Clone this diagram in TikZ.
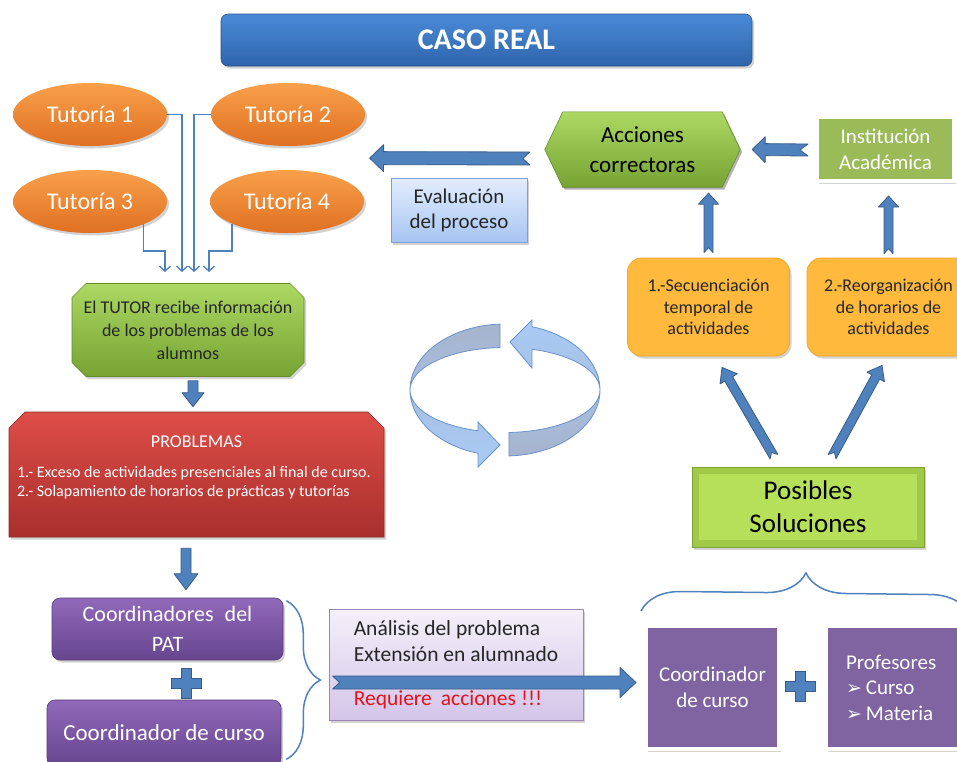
\documentclass[tikz,border=0pt]{standalone}
\usepackage{fontspec}
\setmainfont{Carlito}
\newfontfamily\dejavu{DejaVu Sans}
\usetikzlibrary{calc,arrows.meta,shapes.geometric,shapes.misc,shadows,decorations.pathreplacing,backgrounds}
\definecolor{titletop}{HTML}{4A8BD8}
\definecolor{titlebot}{HTML}{2F64AC}
\definecolor{orgtop}{HTML}{F9A04A}
\definecolor{orgbot}{HTML}{DF7022}
\definecolor{grntop}{HTML}{ACD863}
\definecolor{grnbot}{HTML}{76A332}
\definecolor{redtop}{HTML}{DE4D48}
\definecolor{redbot}{HTML}{A92F2C}
\definecolor{purtop}{HTML}{9169BA}
\definecolor{purbot}{HTML}{66458E}
\definecolor{pur}{HTML}{8064A2}
\definecolor{lpurtop}{HTML}{F4F0F9}
\definecolor{lpurbot}{HTML}{D4C5E9}
\definecolor{lpurline}{HTML}{9A86BB}
\definecolor{psbevel}{HTML}{A0C948}
\definecolor{psfill}{HTML}{B6E05A}
\definecolor{yel}{HTML}{FFB93C}
\definecolor{yelline}{HTML}{F4A62A}
\definecolor{instgrn}{HTML}{9BBB59}
\definecolor{evtop}{HTML}{E3EDFC}
\definecolor{evbot}{HTML}{A6C5F3}
\definecolor{evline}{HTML}{7AA0D6}
\definecolor{arrfill}{HTML}{4F81BD}
\definecolor{arrline}{HTML}{385D8A}
\definecolor{cyclight}{HTML}{A9CBF7}
\definecolor{cycgrey}{HTML}{A6B4CD}
\definecolor{cycline}{HTML}{6A92CB}
\definecolor{reqred}{HTML}{E0141E}
\definecolor{dark}{HTML}{262626}
\newcommand\mybullet{{\dejavu\fontsize{19}{19}\selectfont\char"27A2}\hspace{4pt}}
\tikzset{
  fs/.style 2 args={font=\fontsize{#1}{#2}\selectfont},
  shad/.style={drop shadow={shadow xshift=2pt,shadow yshift=-2.5pt,opacity=0.35}},
  thinconn/.style={draw=arrfill,line width=1.3pt,-{Straight Barb[length=5pt,width=11pt]}},
  blkarrow/.style={fill=arrfill,draw=arrline,line width=0.8pt,line join=round},
  blk/.style n args={4}{to path={let \p1=(\tikztostart),\p2=(\tikztotarget),
      \n1={atan2(\y2-\y1,\x2-\x1)},\n2={veclen(\x2-\x1,\y2-\y1)} in
      ($(\p1)+(\n1+90:#1)$) -- ($(\p1)+(\n1:{\n2-#3})+(\n1+90:#1)$)
      -- ($(\p1)+(\n1:{\n2-#3})+(\n1+90:#2)$) -- (\p2)
      -- ($(\p1)+(\n1:{\n2-#3})+(\n1-90:#2)$) -- ($(\p1)+(\n1:{\n2-#3})+(\n1-90:#1)$)
      -- ($(\p1)+(\n1-90:#1)$) -- ($(\p1)+(\n1:#4)$) -- cycle}},
  bracestyle/.style={draw=arrfill,line width=1.5pt,decorate},
  titlebox/.style={rounded corners=7pt,minimum width=531pt,minimum height=52pt,top color=titletop,bottom color=titlebot,draw=titlebot!80!black,line width=0.6pt,shad,text=white,font=\fontsize{30}{34}\selectfont\bfseries},
  tut/.style={ellipse,minimum width=154pt,minimum height=63pt,inner sep=0pt,top color=orgtop,bottom color=orgbot,text=white,fs={24}{28},shad},
  tutorbox/.style={chamfered rectangle,chamfered rectangle xsep=7pt,chamfered rectangle ysep=7pt,minimum width=232pt,minimum height=93pt,inner sep=0pt,top color=grntop,bottom color=grnbot,draw=grnbot!85!black,line width=0.6pt,align=center,fs={18}{23},text=dark,shad},
  probbox/.style={chamfered rectangle,chamfered rectangle corners={north west,north east},chamfered rectangle xsep=8pt,chamfered rectangle ysep=8pt,minimum width=373pt,minimum height=109pt,inner sep=0pt,top color=redtop,bottom color=redbot,draw=redbot!85!black,line width=0.6pt,text=white,shad},
  purbox/.style={rounded corners=8pt,inner sep=0pt,top color=purtop,bottom color=purbot,draw=purbot!85!black,line width=0.6pt,text=white,align=center,shad},
  analbox/.style={minimum width=254pt,minimum height=111pt,inner sep=0pt,top color=lpurtop,bottom color=lpurbot,draw=lpurline,line width=0.8pt,text=dark,align=left,fs={21.5}{26},shad},
  framedbox/.style={draw=white,line width=4pt,inner sep=0pt,text=white,shad},
  psbox/.style={minimum width=232pt,minimum height=80pt,inner sep=0pt,fill=psbevel,draw=psbevel!80!black,line width=0.6pt,align=center,fs={27}{33},text=black,shad,
     path picture={\fill[psfill] ([shift={(7pt,-7pt)}]path picture bounding box.north west) rectangle ([shift={(-7pt,7pt)}]path picture bounding box.south east);}},
  yelbox/.style={rounded corners=14pt,minimum width=162pt,minimum height=98pt,inner sep=0pt,fill=yel,draw=yelline,line width=0.8pt,align=center,fs={18}{21.5},text=dark,shad},
  evbox/.style={minimum width=136pt,minimum height=64pt,inner sep=0pt,top color=evtop,bottom color=evbot,draw=evline,line width=0.8pt,align=center,fs={21}{25},text=dark,shad},
  plussign/.pic={\filldraw[fill=arrfill,draw=arrline,line width=1pt] (-5,15) -- (5,15) -- (5,5) -- (15,5) -- (15,-5) -- (5,-5) -- (5,-15) -- (-5,-15) -- (-5,-5) -- (-15,-5) -- (-15,5) -- (-5,5) -- cycle;}
}
\begin{document}
\begin{tikzpicture}[x=1pt,y=1pt]
\useasboundingbox (0,0) rectangle (957,-761);
\clip (0,0) rectangle (957,-761);

% title
\node[titlebox] (title) at (486.5,-40) {CASO REAL};

% tutorias
\node[tut] (t1) at (90,-114.5) {Tutoría 1};
\node[tut] (t2) at (288,-114.5) {Tutoría 2};
\node[tut] (t3) at (90,-201.5) {Tutoría 3};
\node[tut] (t4) at (287,-201.5) {Tutoría 4};

% left column
\node[tutorbox] (tutor) at (188,-330) {El TUTOR recibe información\\de los problemas de los\\alumnos};
\node[probbox] (prob) at (196.5,-474.5) {\parbox[c][109pt][t]{359pt}{\vspace*{16pt}\centering\fontsize{18}{22}\selectfont PROBLEMAS\par\vspace{11pt}\raggedright\fontsize{16}{19}\selectfont 1.- Exceso de actividades presenciales al final de curso.\\2.- Solapamiento de horarios de prácticas y tutorías\par}};
\node[purbox,minimum width=231pt,minimum height=62pt,fs={22}{30}] (coordpat) at (167.5,-629) {Coordinadores\hspace{6pt} del\\PAT};
\node[purbox,minimum width=234pt,minimum height=66pt,fs={23}{27}] (coordcur) at (164,-733) {Coordinador de curso};
\pic at (186,-683) {plussign};

% analysis
\node[analbox] (anal) at (456,-664.5) {Análisis del problema\\Extensión en alumnado\\[18pt]\textcolor{reqred}{Requiere\hspace{9pt}acciones\hspace{5pt}!!!}};

% bottom right
\node[framedbox,fill=pur,minimum width=133pt,minimum height=123pt,align=center,fs={21}{26}] (cc) at (712.5,-687.5) {Coordinador\\de curso};
\pic at (800,-686) {plussign};
\node[framedbox,fill=pur,minimum width=150pt,minimum height=123pt,text width=110pt,align=left,fs={21}{25.5}] (prof) at (901,-687.5) {Profesores\\\mybullet Curso\\\mybullet Materia};

% right column
\node[psbox] (ps) at (808,-507) {Posibles\\Soluciones};
\node[yelbox] (sec) at (708.5,-307) {1.-Secuenciación\\temporal de\\actividades};
\node[yelbox,minimum width=163pt] (reo) at (888.5,-307) {2.-Reorganización\\de horarios de\\actividades};
\node[minimum width=195pt,minimum height=75pt,inner sep=0pt,align=center,fs={23}{30},text=black] (acc) at (642.5,-149.5) {Acciones\\correctoras};
\node[framedbox,fill=instgrn,minimum width=137pt,minimum height=64pt,align=center,fs={21}{26}] (inst) at (885.5,-149) {Institución\\Académica};
\node[evbox] (eval) at (459,-210) {Evaluación\\del proceso};

% hexagon behind acc
\begin{scope}[on background layer]
  \fill[white] (0,0) rectangle (957,-761);
  \fill[black,opacity=0.3] ([shift={(2,-2.5)}]acc.west) -- ([shift={(20,-2.5)}]acc.north west) -- ([shift={(-16,-2.5)}]acc.north east) -- ([shift={(2,-2.5)}]acc.east)
    -- ([shift={(-16,-2.5)}]acc.south east) -- ([shift={(20,-2.5)}]acc.south west) -- cycle;
  \shadedraw[top color=grntop,bottom color=grnbot,draw=grnbot!85!black,line width=0.6pt]
    (acc.west) -- ([xshift=18pt]acc.north west) -- ([xshift=-18pt]acc.north east) -- (acc.east)
    -- ([xshift=-18pt]acc.south east) -- ([xshift=18pt]acc.south west) -- cycle;
\end{scope}

% thin connectors from tutorias
\coordinate (e1) at (182,-272);
\coordinate (e2) at (194,-272);
\coordinate (e3) at (165,-272);
\coordinate (e4) at (209,-272);
\coordinate (k3) at (165,-251);
\coordinate (k4) at (209,-251);
\draw[thinconn] (t1.east) -| (e1);
\draw[thinconn] (t2.west) -| (e2);
\draw[thinconn] (t3.-23) |- (k3) -- (e3);
\draw[thinconn] (t4.-158.6) |- (k4) -- (e4);

% block arrows
\coordinate (b1s) at ([shift={(5,-4)}]tutor.south);
\coordinate (b1e) at ([shift={(-3.5,5)}]prob.north);
\draw[blkarrow] (b1s) to[blk={5}{11}{14}{0}] (b1e);
\coordinate (b2s) at ([shift={(-10.5,-11)}]prob.south);
\coordinate (b2e) at ([shift={(18.5,8)}]coordpat.north);
\draw[blkarrow] (b2s) to[blk={5}{12}{16}{0}] (b2e);
\coordinate (b3s) at ([shift={(-15,-9)}]acc.west);
\coordinate (b3e) at ([shift={(-21,19.5)}]eval.north west);
\draw[blkarrow] (b3s) to[blk={6.5}{13.5}{14}{7}] (b3e);
\coordinate (b4s) at ([shift={(-7,-1)}]inst.west);
\coordinate (b4e) at ([xshift=12]acc.east);
\draw[blkarrow] (b4s) to[blk={6}{13}{13}{8}] (b4e);
\coordinate (b5s) at ([yshift=5]sec.north);
\coordinate (b5e) at ([shift={(66,-6)}]acc.south);
\draw[blkarrow] (b5s) to[blk={4.5}{10}{11}{5}] (b5e);
\coordinate (b6s) at ([yshift=4]reo.north);
\coordinate (b6e) at ([shift={(3,-13)}]inst.south);
\draw[blkarrow] (b6s) to[blk={4.5}{10}{11}{5}] (b6e);
\coordinate (b7s) at ([shift={(-34,10)}]ps.north);
\coordinate (b7e) at ([shift={(13.5,-11)}]sec.south);
\draw[blkarrow] (b7s) to[blk={4.5}{10}{13}{5}] (b7e);
\coordinate (b8s) at ([shift={(24,10)}]ps.north);
\coordinate (b8e) at ([shift={(-6.5,-9)}]reo.south);
\draw[blkarrow] (b8s) to[blk={4.5}{10}{13}{5}] (b8e);
\coordinate (b9s) at ([shift={(4,-18)}]anal.west);
\coordinate (b9e) at ([shift={(-8,5)}]cc.west);
\draw[blkarrow] (b9s) to[blk={6.5}{15}{16}{7}] (b9e);

% braces
\coordinate (br1a) at ([shift={(3,-3)}]coordpat.north east);
\coordinate (br1b) at ([shift={(5,7)}]coordcur.south east);
\draw[bracestyle,decoration={brace,amplitude=34pt}] (br1a) -- (br1b);
\coordinate (br2a) at ([shift={(-3,13)}]cc.north west);
\coordinate (br2b) at (970,-615);
\draw[bracestyle,decoration={brace,amplitude=40pt}] (br2a) -- (br2b);

% cycle arrows
\shadedraw[top color=cycgrey,bottom color=cyclight,draw=cycline,line width=0.8pt]
  ({505+95*cos(93)},{-390+66*sin(93)}) arc[start angle=93,end angle=253.5,x radius=95,y radius=66]
  -- (478,-467) -- (500,-445) -- (478,-422)
  -- ({505+95*cos(253.5)},{-390+42.5*sin(253.5)}) arc[start angle=253.5,end angle=93,x radius=95,y radius=42.5] -- cycle;
\shadedraw[top color=cyclight,bottom color=cycgrey,draw=cycline,line width=0.8pt]
  ({505+95*cos(272.4)},{-390+66*sin(272.4)}) arc[start angle=272.4,end angle=433.5,x radius=95,y radius=66]
  -- (532,-320) -- (510,-342) -- (532,-368)
  -- ({505+95*cos(433.5)},{-390+42.5*sin(433.5)}) arc[start angle=433.5,end angle=272.4,x radius=95,y radius=42.5] -- cycle;
\end{tikzpicture}
\end{document}
